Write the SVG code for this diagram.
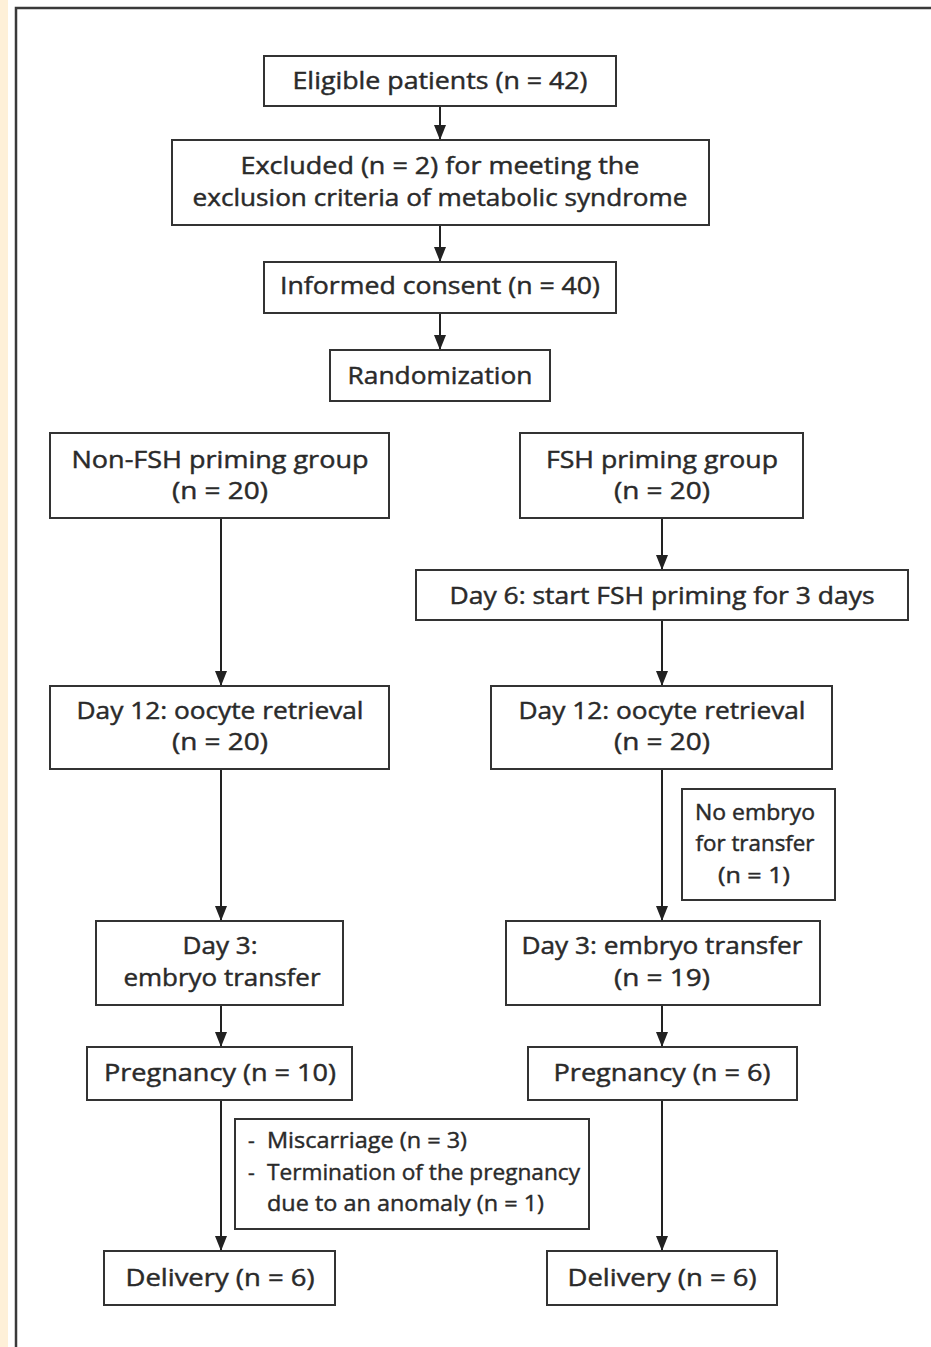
<svg xmlns="http://www.w3.org/2000/svg" width="931" height="1347" viewBox="0 0 931 1347">
<style>
.box{fill:#fff;stroke:#333;stroke-width:2}
.t{font-family:"Open Sans","Noto Sans",sans-serif;font-size:24px;fill:#2a2a2a;stroke:#2a2a2a;stroke-width:0.45;text-anchor:middle}
.s{font-family:"Open Sans","Noto Sans",sans-serif;font-size:21px;fill:#2a2a2a;stroke:#2a2a2a;stroke-width:0.4}
.c{stroke:#222;stroke-width:2;fill:none;marker-end:url(#ah)}
</style>
<defs>
<marker id="ah" viewBox="0 0 15 12" refX="15" refY="6" markerWidth="15" markerHeight="12" markerUnits="userSpaceOnUse" orient="auto">
<path d="M0,0 L15,6 L0,12 Z" fill="#222"/>
</marker>
</defs>
<rect x="0" y="0" width="931" height="1347" fill="#fff"/>
<rect x="0" y="0" width="8" height="1347" fill="#fef0d8"/>
<path d="M16,1347 V8 H931" fill="none" stroke="#3a3a3a" stroke-width="2.5"/>

<g id="connectors">
<line class="c" x1="440" y1="106" x2="440" y2="140"/>
<line class="c" x1="440" y1="225" x2="440" y2="262"/>
<line class="c" x1="440" y1="313" x2="440" y2="350"/>
<line class="c" x1="221" y1="518" x2="221" y2="686"/>
<line class="c" x1="221" y1="769" x2="221" y2="921"/>
<line class="c" x1="221" y1="1005" x2="221" y2="1047"/>
<line class="c" x1="221" y1="1100" x2="221" y2="1251"/>
<line class="c" x1="662" y1="518" x2="662" y2="570"/>
<line class="c" x1="662" y1="620" x2="662" y2="686"/>
<line class="c" x1="662" y1="769" x2="662" y2="921"/>
<line class="c" x1="662" y1="1005" x2="662" y2="1047"/>
<line class="c" x1="662" y1="1100" x2="662" y2="1251"/>
</g>

<g id="eligible"><rect class="box" x="264" y="56" width="352" height="50"/><text class="t" x="440" y="89" textLength="295" lengthAdjust="spacingAndGlyphs">Eligible patients (n = 42)</text></g>
<g id="excluded"><rect class="box" x="172" y="140" width="537" height="85"/><text class="t" x="440" y="174" textLength="399" lengthAdjust="spacingAndGlyphs">Excluded (n = 2) for meeting the</text><text class="t" x="440" y="206" textLength="495" lengthAdjust="spacingAndGlyphs">exclusion criteria of metabolic syndrome</text></g>
<g id="consent"><rect class="box" x="264" y="262" width="352" height="51"/><text class="t" x="440" y="294" textLength="320" lengthAdjust="spacingAndGlyphs">Informed consent (n = 40)</text></g>
<g id="random"><rect class="box" x="330" y="350" width="220" height="51"/><text class="t" x="440" y="384" textLength="185" lengthAdjust="spacingAndGlyphs">Randomization</text></g>
<g id="nonfsh"><rect class="box" x="50" y="433" width="339" height="85"/><text class="t" x="220" y="468" textLength="297" lengthAdjust="spacingAndGlyphs">Non-FSH priming group</text><text class="t" x="220" y="499" textLength="96" lengthAdjust="spacingAndGlyphs">(n = 20)</text></g>
<g id="fsh"><rect class="box" x="520" y="433" width="283" height="85"/><text class="t" x="662" y="468" textLength="232" lengthAdjust="spacingAndGlyphs">FSH priming group</text><text class="t" x="662" y="499" textLength="96" lengthAdjust="spacingAndGlyphs">(n = 20)</text></g>
<g id="day6"><rect class="box" x="416" y="570" width="492" height="50"/><text class="t" x="662" y="604" textLength="425" lengthAdjust="spacingAndGlyphs">Day 6: start FSH priming for 3 days</text></g>
<g id="day12l"><rect class="box" x="50" y="686" width="339" height="83"/><text class="t" x="220" y="719" textLength="287" lengthAdjust="spacingAndGlyphs">Day 12: oocyte retrieval</text><text class="t" x="220" y="750" textLength="96" lengthAdjust="spacingAndGlyphs">(n = 20)</text></g>
<g id="day12r"><rect class="box" x="491" y="686" width="341" height="83"/><text class="t" x="662" y="719" textLength="287" lengthAdjust="spacingAndGlyphs">Day 12: oocyte retrieval</text><text class="t" x="662" y="750" textLength="96" lengthAdjust="spacingAndGlyphs">(n = 20)</text></g>
<g id="noembryo"><rect class="box" x="682" y="789" width="153" height="111"/><text class="t" x="755" y="820" textLength="120" lengthAdjust="spacingAndGlyphs" style="font-size:22px">No embryo</text><text class="t" x="755" y="851" textLength="119" lengthAdjust="spacingAndGlyphs" style="font-size:22px">for transfer</text><text class="t" x="754" y="883" textLength="72" lengthAdjust="spacingAndGlyphs" style="font-size:22px">(n = 1)</text></g>
<g id="day3l"><rect class="box" x="96" y="921" width="247" height="84"/><text class="t" x="220" y="954" textLength="75" lengthAdjust="spacingAndGlyphs">Day 3:</text><text class="t" x="222" y="986" textLength="197" lengthAdjust="spacingAndGlyphs">embryo transfer</text></g>
<g id="day3r"><rect class="box" x="506" y="921" width="314" height="84"/><text class="t" x="662" y="954" textLength="281" lengthAdjust="spacingAndGlyphs">Day 3: embryo transfer</text><text class="t" x="662" y="986" textLength="96" lengthAdjust="spacingAndGlyphs">(n = 19)</text></g>
<g id="pregl"><rect class="box" x="87" y="1047" width="265" height="53"/><text class="t" x="220" y="1081" textLength="232" lengthAdjust="spacingAndGlyphs">Pregnancy (n = 10)</text></g>
<g id="pregr"><rect class="box" x="528" y="1047" width="269" height="53"/><text class="t" x="662" y="1081" textLength="217" lengthAdjust="spacingAndGlyphs">Pregnancy (n = 6)</text></g>
<g id="loss"><rect class="box" x="235" y="1119" width="354" height="110"/><text class="s" x="248" y="1148">-</text><text class="s" x="267" y="1148" textLength="200" lengthAdjust="spacingAndGlyphs">Miscarriage (n = 3)</text><text class="s" x="248" y="1180">-</text><text class="s" x="267" y="1180" textLength="313" lengthAdjust="spacingAndGlyphs">Termination of the pregnancy</text><text class="s" x="267" y="1211" textLength="277" lengthAdjust="spacingAndGlyphs">due to an anomaly (n = 1)</text></g>
<g id="delivl"><rect class="box" x="104" y="1251" width="231" height="54"/><text class="t" x="220" y="1286" textLength="189" lengthAdjust="spacingAndGlyphs">Delivery (n = 6)</text></g>
<g id="delivr"><rect class="box" x="547" y="1251" width="230" height="54"/><text class="t" x="662" y="1286" textLength="189" lengthAdjust="spacingAndGlyphs">Delivery (n = 6)</text></g>
</svg>
